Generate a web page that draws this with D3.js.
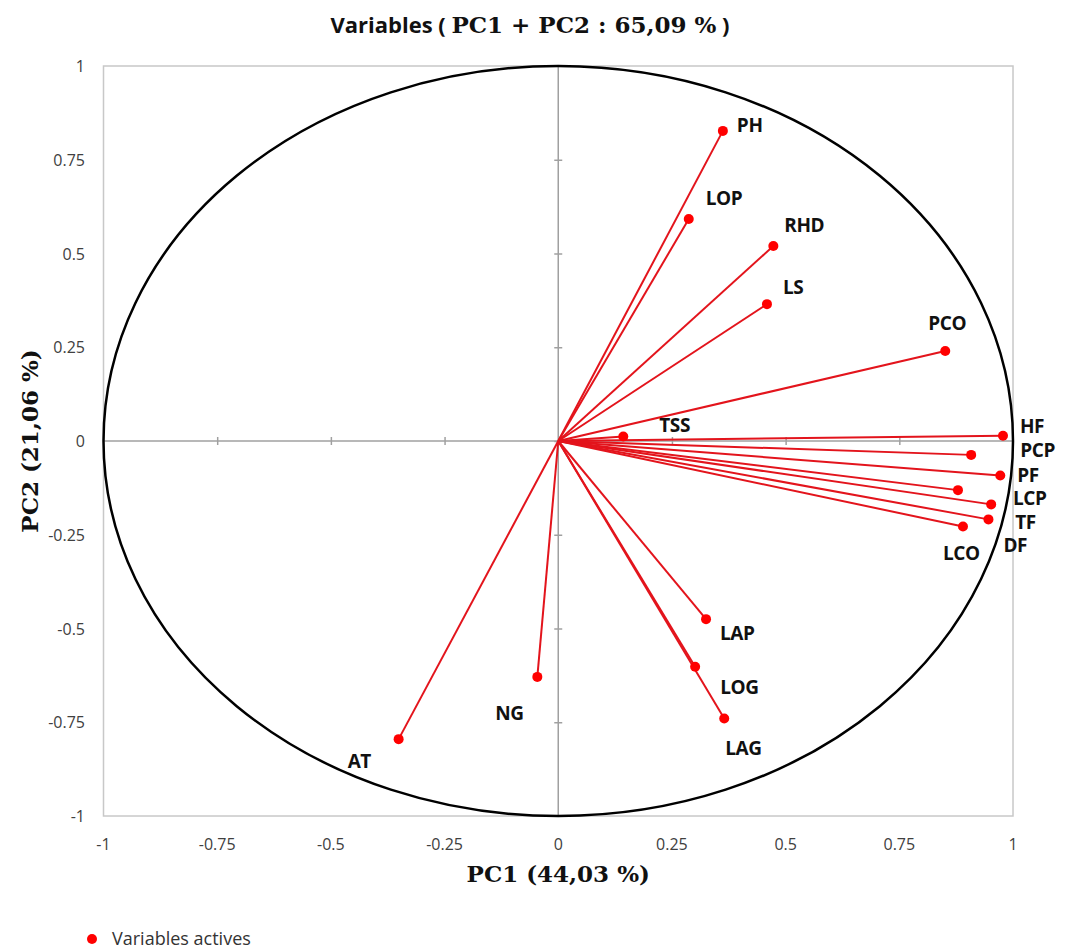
<!DOCTYPE html>
<html>
<head>
<meta charset="utf-8">
<script src="https://cdn.jsdelivr.net/npm/d3@7"></script>
<style>
  body { margin: 0; background: #fff; }
  svg { display: block; }
</style>
</head>
<body>
<div id="chart"></div>
<script>
// variable names and their coordinates on PC1 / PC2
var variables = ['PH', 'LOP', 'RHD', 'LS', 'PCO', 'TSS', 'HF', 'PCP', 'PF', 'LCP', 'TF', 'DF', 'LCO', 'LAP', 'LOG', 'LAG', 'NG', 'AT'];
var pc1 = [0.362, 0.287, 0.473, 0.459, 0.851, 0.143, 0.978, 0.908, 0.972, 0.879, 0.952, 0.946, 0.890, 0.325, 0.301, 0.365, -0.046, -0.351];
var pc2 = [0.827, 0.592, 0.520, 0.365, 0.240, 0.012, 0.014, -0.037, -0.092, -0.131, -0.169, -0.209, -0.228, -0.475, -0.602, -0.740, -0.629, -0.795];
var tickValues = [-1, -0.75, -0.5, -0.25, 0, 0.25, 0.5, 0.75, 1];

// label placement (pixel offsets from the point, text start / baseline)
var labelOffset = {
  PH: [14, 1], LOP: [17, -14], RHD: [11, -14], LS: [16, -10], PCO: [-17, -21],
  TSS: [36, -5], HF: [17, -3], PCP: [49, 2], PF: [17, 6], LCP: [55, 15],
  TF: [24, 25], DF: [15, 33], LCO: [-20, 33], LAP: [14, 21], LOG: [25, 27],
  LAG: [1, 36], NG: [-42, 43], AT: [-51, 29]
};

var W = 1067, H = 950;
var x = d3.scaleLinear().domain([-1, 1]).range([103.5, 1013]);
var y = d3.scaleLinear().domain([-1, 1]).range([816, 66]);

var svg = d3.select('#chart').append('svg').attr('width', W).attr('height', H);

// frame
svg.append('rect')
  .attr('x', x(-1)).attr('y', y(1))
  .attr('width', x(1) - x(-1)).attr('height', y(-1) - y(1))
  .attr('fill', 'none').attr('stroke', '#c8c8c8').attr('stroke-width', 1.5);

// axes through zero
var xAxis = d3.axisBottom(x).tickValues(tickValues).tickSize(8).tickFormat('');
var yAxis = d3.axisLeft(y).tickValues(tickValues).tickSize(8).tickFormat('');
var gx = svg.append('g').attr('transform', 'translate(0,' + (y(0) - 4) + ')').call(xAxis);
var gy = svg.append('g').attr('transform', 'translate(' + (x(0) + 4) + ',0)').call(yAxis);
[gx, gy].forEach(function(g) {
  g.select('.domain').remove();
  g.selectAll('line').attr('stroke', '#a0a0a0').attr('stroke-width', 1.5);
  g.selectAll('.tick').filter(function(d) { return Math.abs(d) === 1; }).remove();
});
svg.append('line').attr('x1', x(-1)).attr('x2', x(1)).attr('y1', y(0)).attr('y2', y(0))
  .attr('stroke', '#a0a0a0').attr('stroke-width', 1.5);
svg.append('line').attr('x1', x(0)).attr('x2', x(0)).attr('y1', y(1)).attr('y2', y(-1))
  .attr('stroke', '#a0a0a0').attr('stroke-width', 1.5);

// tick labels
svg.append('g').selectAll('text').data(tickValues).enter().append('text')
  .attr('x', function(d) { return x(d); }).attr('y', 850)
  .attr('text-anchor', 'middle')
  .style('font', '16px "Open Sans", sans-serif').style('fill', '#404040')
  .text(function(d) { return d; });
svg.append('g').selectAll('text').data(tickValues).enter().append('text')
  .attr('x', 85).attr('y', function(d) { return y(d) + 6; })
  .attr('text-anchor', 'end')
  .style('font', '16px "Open Sans", sans-serif').style('fill', '#404040')
  .text(function(d) { return d; });

// correlation circle
svg.append('ellipse')
  .attr('cx', x(0)).attr('cy', y(0))
  .attr('rx', x(1) - x(0)).attr('ry', y(0) - y(1))
  .attr('fill', 'none').attr('stroke', '#000').attr('stroke-width', 2.5);

// vectors
var data = variables.map(function(v, i) { return { name: v, x: pc1[i], y: pc2[i] }; });
svg.append('g').selectAll('line').data(data).enter().append('line')
  .attr('x1', x(0)).attr('y1', y(0))
  .attr('x2', function(d) { return x(d.x); }).attr('y2', function(d) { return y(d.y); })
  .attr('stroke', '#e3141c').attr('stroke-width', 2);
svg.append('g').selectAll('circle').data(data).enter().append('circle')
  .attr('cx', function(d) { return x(d.x); }).attr('cy', function(d) { return y(d.y); })
  .attr('r', 5).attr('fill', '#f00');
svg.append('g').selectAll('text').data(data).enter().append('text')
  .attr('x', function(d) { return x(d.x) + labelOffset[d.name][0]; })
  .attr('y', function(d) { return y(d.y) + labelOffset[d.name][1]; })
  .style('font', 'bold 19px "Open Sans", sans-serif').style('fill', '#111')
  .style('letter-spacing', '-0.4px')
  .text(function(d) { return d.name; });

// titles
var title = svg.append('text').attr('x', 530).attr('y', 33).attr('text-anchor', 'middle')
  .style('font', 'bold 22px "Open Sans", sans-serif').style('fill', '#111');
title.append('tspan').text('Variables ( ');
title.append('tspan').style('font', 'bold 23px "DejaVu Serif", serif').text('PC1 + PC2 : 65,09 %');
title.append('tspan').text(' )');

svg.append('text').attr('x', x(0)).attr('y', 882).attr('text-anchor', 'middle')
  .style('font', 'bold 23px "DejaVu Serif", serif').style('fill', '#111')
  .text('PC1 (44,03 %)');
svg.append('text').attr('transform', 'translate(38,' + y(0) + ') rotate(-90)')
  .attr('text-anchor', 'middle')
  .style('font', 'bold 23px "DejaVu Serif", serif').style('fill', '#111')
  .text('PC2 (21,06 %)');

// legend
svg.append('circle').attr('cx', 92).attr('cy', 939).attr('r', 5).attr('fill', '#f00');
svg.append('text').attr('x', 112).attr('y', 945)
  .style('font', '18px "Open Sans", sans-serif').style('fill', '#333')
  .text('Variables actives');
</script>
</body>
</html>
